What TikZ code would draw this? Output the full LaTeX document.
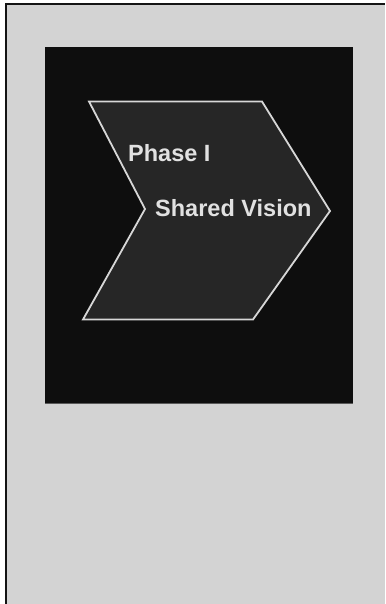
\documentclass[tikz,border=0pt]{standalone}
\usepackage{fontspec}
\setmainfont{Liberation Sans}
\definecolor{pPanel}{RGB}{211,211,211}
\definecolor{pFrame}{RGB}{20,20,20}
\definecolor{pBox}{RGB}{14,14,14}
\definecolor{pArrow}{RGB}{38,38,38}
\definecolor{pLine}{RGB}{215,215,215}
\definecolor{pText}{RGB}{225,225,225}
\usetikzlibrary{positioning}

\begin{document}
\begin{tikzpicture}[x=1pt, y=-1pt,
    label text/.style={text=pText, font=\bfseries\fontsize{23.5}{26}\selectfont, inner sep=0pt, anchor=base west}]
    \useasboundingbox (0,0) rectangle (385,604);
    \fill[white] (0,0) rectangle (385,604);

    % gray panel with dark frame on the left and top
    \fill[pPanel] (5,4) rectangle (385,604);
    \draw[pFrame, line width=2pt] (5.5,604) -- (5.5,4.5) -- (385,4.5);

    % black picture box
    \fill[pBox] (45,47) rectangle (353,403);
    \draw[gray!70!black, line width=1pt] (45,403) -- (353,403);

    % chevron: phase shape
    \draw[pLine, line width=1.8pt, fill=pArrow, line join=miter]
      (89,101.5) -- (262,101.5) -- (330,211) -- (253,319.5)
      -- (83,319.5) -- (145,209) -- cycle;

    % labels
    \node[label text] (phase) at (128,161) {Phase I};
    \node[label text] (vision) at (155,216) {Shared Vision};
  \end{tikzpicture}
\end{document}
